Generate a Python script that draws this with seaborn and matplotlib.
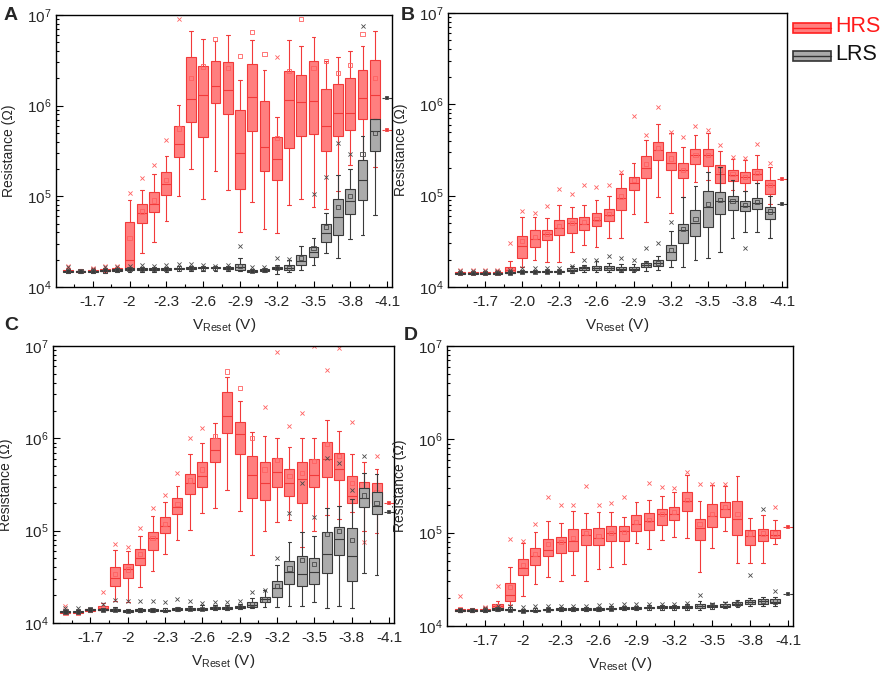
import numpy as np
import pandas as pd
import matplotlib
matplotlib.use("Agg")
import matplotlib.pyplot as plt
import seaborn as sns
from matplotlib.ticker import FixedLocator, LogLocator, NullFormatter
from matplotlib.patches import Rectangle
from matplotlib.lines import Line2D

nan = np.nan

# ---------------- data ----------------
V = [-1.5, -1.6, -1.7, -1.8, -1.9, -2.0, -2.1, -2.2, -2.3, -2.4, -2.5, -2.6, -2.7,
     -2.8, -2.9, -3.0, -3.1, -3.2, -3.3, -3.4, -3.5, -3.6, -3.7, -3.8, -3.9, -4.0]
V_END = -4.1

TICKS_A = ['-1.7', '-2', '-2.3', '-2.6', '-2.9', '-3.2', '-3.5', '-3.8', '-4.1']
TICKS_B = ['-1.7', '-2.0', '-2.3', '-2.6', '-2.9', '-3.2', '-3.5', '-3.8', '-4.1']

# Panel A
A_hrs_lo = [1.45e4, 1.45e4, 1.47e4, 1.48e4, 1.5e4, 1.55e4, 2.4e4, 3.1e4, 5.4e4, 1.02e5, 2.0e5, 9.4e4, 1.9e5,
            1.16e5, 4.0e4, 8.7e4, 4.4e4, 3.9e4, 8.1e4, 9.4e4, 7.6e4, 7.2e4, 1.14e5, 2.2e5, 2.3e5, 2.1e5]
A_hrs_q1 = [1.49e4, 1.48e4, 1.5e4, 1.52e4, 1.54e4, 1.62e4, 5.1e4, 6.7e4, 1.04e5, 2.7e5, 6.6e5, 4.5e5, 1.08e6,
            8.1e5, 1.2e5, 5.3e5, 1.9e5, 1.5e5, 3.4e5, 4.6e5, 4.9e5, 3.2e5, 4.6e5, 5.4e5, 7.1e5, 7.1e5]
A_hrs_med = [1.52e4, 1.5e4, 1.52e4, 1.54e4, 1.57e4, 2.0e4, 6.6e4, 8.2e4, 1.38e5, 3.8e5, 1.18e6, 1.3e6, 1.66e6,
             1.5e6, 3.0e5, 1.25e6, 3.5e5, 2.6e5, 1.16e6, 1.1e6, 1.12e6, 6.0e5, 8.4e5, 8.3e5, 1.22e6, 1.3e6]
A_hrs_q3 = [1.55e4, 1.52e4, 1.55e4, 1.57e4, 1.6e4, 5.2e4, 8.3e4, 1.12e5, 1.85e5, 5.9e5, 3.4e6, 2.76e6, 3.1e6,
            3.0e6, 9.0e5, 2.9e6, 1.13e6, 4.5e5, 2.4e6, 2.2e6, 3.1e6, 1.54e6, 1.74e6, 2.0e6, 2.45e6, 3.2e6]
A_hrs_hi = [1.6e4, 1.56e4, 1.6e4, 1.62e4, 1.65e4, 9.2e4, 1.18e5, 1.76e5, 2.8e5, 1.02e6, 6.6e6, 5.4e6, 5.2e6,
            6.0e6, 1.9e6, 5.3e6, 2.45e6, 7.5e5, 5.3e6, 4.5e6, 5.7e6, 3.1e6, 3.4e6, 4.0e6, 4.5e6, 6.6e6]
A_hrs_mean = [1.52e4, 1.5e4, 1.52e4, 1.55e4, 1.58e4, 3.5e4, 6.8e4, 9.0e4, 1.52e5, 5.6e5, 2.0e6, 2.7e6, 5.4e6,
              2.6e6, 3.5e6, 6.5e6, 3.7e6, 4.4e5, 2.4e6, 9.0e6, 2.6e6, 3.1e6, 2.3e6, 2.8e6, 6.2e6, 2.0e6]
A_hrs_out = [1.7e4, nan, 1.6e4, 1.7e4, 1.7e4, 1.1e5, 1.6e5, 2.2e5, 4.2e5, 9.0e6, nan, nan, nan,
             nan, nan, nan, nan, 3.4e6, nan, nan, nan, nan, nan, nan, nan, nan]

A_lrs_lo = [1.42e4, 1.42e4, 1.42e4, 1.43e4, 1.45e4, 1.48e4, 1.48e4, 1.48e4, 1.48e4, 1.5e4, 1.5e4, 1.52e4, 1.52e4,
            1.5e4, 1.5e4, 1.45e4, 1.48e4, 1.4e4, 1.48e4, 1.53e4, 1.73e4, 2.4e4, 2.1e4, 3.4e4, 3.7e4, 6.3e4]
A_lrs_q1 = [1.48e4, 1.48e4, 1.48e4, 1.5e4, 1.52e4, 1.54e4, 1.54e4, 1.54e4, 1.54e4, 1.57e4, 1.58e4, 1.6e4, 1.6e4,
            1.58e4, 1.55e4, 1.48e4, 1.52e4, 1.58e4, 1.53e4, 1.73e4, 2.14e4, 3.1e4, 3.75e4, 6.4e4, 9.2e4, 3.2e5]
A_lrs_med = [1.5e4, 1.5e4, 1.5e4, 1.52e4, 1.55e4, 1.57e4, 1.57e4, 1.57e4, 1.57e4, 1.6e4, 1.62e4, 1.63e4, 1.63e4,
             1.62e4, 1.67e4, 1.5e4, 1.55e4, 1.62e4, 1.62e4, 1.92e4, 2.45e4, 3.9e4, 5.9e4, 8.8e4, 1.52e5, 5.2e5]
A_lrs_q3 = [1.52e4, 1.52e4, 1.52e4, 1.55e4, 1.58e4, 1.6e4, 1.6e4, 1.6e4, 1.6e4, 1.63e4, 1.66e4, 1.67e4, 1.67e4,
            1.67e4, 1.8e4, 1.53e4, 1.58e4, 1.67e4, 1.76e4, 2.24e4, 2.76e4, 5.0e4, 9.3e4, 1.2e5, 2.5e5, 7.1e5]
A_lrs_hi = [1.55e4, 1.55e4, 1.55e4, 1.58e4, 1.62e4, 1.65e4, 1.65e4, 1.65e4, 1.65e4, 1.7e4, 1.72e4, 1.72e4, 1.72e4,
            1.72e4, 2.1e4, 1.58e4, 1.62e4, 1.75e4, 2.0e4, 2.85e4, 3.5e4, 6.5e4, 1.74e5, 2.0e5, 4.6e5, 7.1e5]
A_lrs_mean = [1.5e4, 1.5e4, 1.5e4, 1.52e4, 1.55e4, 1.57e4, 1.57e4, 1.57e4, 1.57e4, 1.6e4, 1.62e4, 1.63e4, 1.63e4,
              1.62e4, 1.7e4, 1.5e4, 1.55e4, 1.62e4, 1.63e4, 2.1e4, 2.7e4, 4.6e4, 7.7e4, 1.0e5, 2.9e5, 5.0e5]
A_lrs_out = [1.65e4, nan, 1.58e4, 1.68e4, 1.65e4, 1.72e4, 1.75e4, 1.7e4, 1.75e4, 1.78e4, 1.78e4, 1.75e4, 1.72e4,
             1.75e4, 2.8e4, 1.65e4, 1.68e4, 2.1e4, 2.05e4, nan, 1.07e5, 1.65e5, 3.9e5, 2.9e5, 7.5e6, nan]

# Panel B
B_hrs_lo = [1.38e4, 1.38e4, 1.38e4, 1.39e4, 1.42e4, 1.66e4, 1.96e4, 1.9e4, 1.9e4, 2.4e4, 2.9e4, 2.74e4, 3.4e4,
            3.4e4, 6.3e4, 5.1e4, 9.7e4, 6.5e4, 9.7e4, 1.4e5, 1.47e5, 1.1e5, 1.15e5, 1.13e5, 1.38e5, 8.2e4]
B_hrs_q1 = [1.41e4, 1.41e4, 1.41e4, 1.42e4, 1.45e4, 2.1e4, 2.74e4, 3.24e4, 3.74e4, 3.9e4, 4.2e4, 4.6e4, 5.3e4,
            6.9e4, 1.16e5, 1.57e5, 2.44e5, 1.89e5, 1.56e5, 2.24e5, 2.1e5, 1.39e5, 1.46e5, 1.38e5, 1.5e5, 1.05e5]
B_hrs_med = [1.43e4, 1.43e4, 1.43e4, 1.44e4, 1.55e4, 2.8e4, 3.35e4, 3.8e4, 4.4e4, 5.0e4, 4.9e4, 5.4e4, 6.1e4,
             9.4e4, 1.38e5, 2.03e5, 3.2e5, 2.3e5, 1.89e5, 2.76e5, 2.76e5, 1.71e5, 1.7e5, 1.6e5, 1.74e5, 1.3e5]
B_hrs_q3 = [1.45e4, 1.45e4, 1.45e4, 1.46e4, 1.65e4, 3.65e4, 4.2e4, 4.2e4, 5.45e4, 5.7e4, 5.8e4, 6.45e4, 7.1e4,
            1.2e5, 1.6e5, 2.74e5, 3.9e5, 3.0e5, 2.3e5, 3.24e5, 3.27e5, 2.15e5, 1.93e5, 1.82e5, 1.98e5, 1.47e5]
B_hrs_hi = [1.48e4, 1.48e4, 1.48e4, 1.5e4, 1.93e4, 5.9e4, 5.9e4, 5.7e4, 8.0e4, 7.6e4, 8.0e4, 9.0e4, 9.9e4,
            1.74e5, 2.27e5, 4.1e5, 6.1e5, 4.9e5, 3.4e5, 4.6e5, 4.85e5, 3.1e5, 2.5e5, 2.45e5, 2.8e5, 2.06e5]
B_hrs_mean = [1.43e4, 1.43e4, 1.43e4, 1.44e4, 1.55e4, 3.2e4, 3.5e4, 3.8e4, 4.7e4, 5.0e4, 5.1e4, 5.6e4, 6.3e4,
              9.8e4, 1.5e5, 2.2e5, 3.3e5, 2.55e5, 1.9e5, 2.8e5, 2.8e5, 1.9e5, 1.72e5, 1.6e5, 1.76e5, 1.3e5]
B_hrs_out = [1.52e4, 1.52e4, 1.52e4, 1.55e4, 3.0e4, 6.8e4, 6.5e4, 7.8e4, 1.17e5, 1.03e5, 1.3e5, 1.23e5, 1.32e5,
             1.8e5, 7.4e5, 4.6e5, 9.3e5, 5.0e5, 4.4e5, 5.8e5, 5.3e5, 3.6e5, 2.65e5, 2.6e5, 3.65e5, 2.3e5]

B_lrs_lo = [1.38e4, 1.38e4, 1.38e4, 1.38e4, 1.4e4, 1.42e4, 1.42e4, 1.42e4, 1.42e4, 1.43e4, 1.45e4, 1.45e4, 1.45e4,
            1.45e4, 1.45e4, 1.5e4, 1.55e4, 1.66e4, 1.66e4, 1.96e4, 2.1e4, 2.4e4, 3.46e4, 4.0e4, 4.0e4, 3.4e4]
B_lrs_q1 = [1.4e4, 1.4e4, 1.4e4, 1.4e4, 1.42e4, 1.45e4, 1.45e4, 1.45e4, 1.45e4, 1.5e4, 1.55e4, 1.55e4, 1.55e4,
            1.53e4, 1.52e4, 1.66e4, 1.7e4, 2.0e4, 3.05e4, 3.6e4, 4.5e4, 6.3e4, 6.9e4, 6.8e4, 7.1e4, 5.6e4]
B_lrs_med = [1.42e4, 1.42e4, 1.42e4, 1.42e4, 1.44e4, 1.47e4, 1.47e4, 1.48e4, 1.48e4, 1.55e4, 1.6e4, 1.63e4, 1.62e4,
             1.57e4, 1.57e4, 1.76e4, 1.85e4, 2.4e4, 4.2e4, 5.0e4, 7.5e4, 8.7e4, 8.7e4, 7.8e4, 8.4e4, 6.6e4]
B_lrs_q3 = [1.44e4, 1.44e4, 1.44e4, 1.44e4, 1.46e4, 1.5e4, 1.5e4, 1.5e4, 1.5e4, 1.6e4, 1.65e4, 1.7e4, 1.7e4,
            1.65e4, 1.64e4, 1.83e4, 1.98e4, 2.9e4, 4.9e4, 7.0e4, 1.12e5, 1.1e5, 1.0e5, 8.8e4, 9.5e4, 7.5e4]
B_lrs_hi = [1.46e4, 1.46e4, 1.46e4, 1.46e4, 1.5e4, 1.55e4, 1.55e4, 1.55e4, 1.55e4, 1.68e4, 1.75e4, 1.93e4, 1.85e4,
            1.8e4, 1.78e4, 1.95e4, 2.2e4, 4.1e4, 9.7e4, 1.26e5, 1.8e5, 2.05e5, 1.47e5, 1.12e5, 1.36e5, 1.0e5]
B_lrs_mean = [1.42e4, 1.42e4, 1.42e4, 1.42e4, 1.44e4, 1.47e4, 1.47e4, 1.48e4, 1.48e4, 1.55e4, 1.6e4, 1.63e4, 1.62e4,
              1.57e4, 1.57e4, 1.76e4, 1.85e4, 2.55e4, 4.3e4, 5.5e4, 8.1e4, 8.9e4, 8.8e4, 7.9e4, 8.5e4, 6.7e4]
B_lrs_out = [1.5e4, 1.5e4, 1.5e4, 1.5e4, 1.55e4, 1.6e4, 1.6e4, 1.62e4, 1.62e4, 1.7e4, 2.0e4, 1.96e4, 2.17e4,
             2.07e4, 1.96e4, 2.7e4, 3.0e4, 5.1e4, nan, nan, nan, nan, nan, 2.67e4, nan, nan]

# Panel C
C_hrs_lo = [1.25e4, 1.25e4, 1.33e4, 1.38e4, 1.75e4, 1.7e4, 2.43e4, 3.7e4, 5.6e4, 7.9e4, 1.02e5, 1.55e5, 1.75e5,
            2.76e5, 1.65e5, 5.4e4, 1.0e5, 1.23e5, 1.3e5, 6.6e4, 1.0e5, 1.48e5, 1.34e5, 1.6e5, 1.0e5, 9.5e4]
C_hrs_q1 = [1.28e4, 1.28e4, 1.36e4, 1.4e4, 2.5e4, 3.1e4, 4.2e4, 6.2e4, 9.4e4, 1.5e5, 2.47e5, 3.0e5, 5.6e5,
            1.14e6, 6.7e5, 2.27e5, 2.17e5, 3.0e5, 2.36e5, 1.98e5, 2.95e5, 3.8e5, 3.5e5, 2.0e5, 2.0e5, 2.0e5]
C_hrs_med = [1.3e4, 1.3e4, 1.39e4, 1.45e4, 3.1e4, 3.8e4, 5.1e4, 8.4e4, 1.11e5, 1.79e5, 3.3e5, 3.9e5, 7.5e5,
             1.73e6, 1.11e6, 4.0e5, 3.3e5, 4.35e5, 3.3e5, 3.6e5, 4.0e5, 5.9e5, 4.7e5, 2.4e5, 2.6e5, 2.5e5]
C_hrs_q3 = [1.32e4, 1.32e4, 1.42e4, 1.54e4, 4.0e4, 4.4e4, 6.4e4, 9.6e4, 1.39e5, 2.24e5, 4.1e5, 5.6e5, 1.0e6,
            3.2e6, 1.49e6, 6.4e5, 5.6e5, 6.1e5, 4.7e5, 5.5e5, 6.0e5, 9.2e5, 6.9e5, 3.95e5, 3.4e5, 3.26e5]
C_hrs_hi = [1.35e4, 1.35e4, 1.45e4, 1.65e4, 6.2e4, 6.0e4, 8.8e4, 1.45e5, 2.03e5, 3.07e5, 6.7e5, 8.9e5, 1.47e6,
            4.6e6, 2.56e6, 1.18e6, 1.05e6, 1.0e6, 8.1e5, 1.0e6, 1.02e6, 1.58e6, 1.19e6, 6.7e5, 5.5e5, 4.6e5]
C_hrs_mean = [1.3e4, 1.3e4, 1.39e4, 1.46e4, 3.4e4, 3.8e4, 5.6e4, 8.4e4, 1.18e5, 1.95e5, 3.5e5, 4.6e5, 1.07e6,
              5.3e6, 3.5e6, 1.0e6, 4.6e5, 5.85e5, 3.9e5, 4.2e5, 5.7e5, 8.7e5, 6.5e5, 3.3e5, 2.7e5, 2.6e5]
C_hrs_out = [1.54e4, nan, nan, 2.15e4, 7.2e4, 6.6e4, 1.07e5, 1.75e5, 2.46e5, 4.2e5, 1.02e6, 1.28e6, nan,
             nan, nan, nan, 2.17e6, 8.7e6, 1.37e6, 1.88e6, 9.9e6, 5.5e6, 9.6e6, 1.49e6, 7.6e4, 6.5e5]

C_lrs_lo = [1.28e4, 1.28e4, 1.35e4, 1.35e4, 1.35e4, 1.3e4, 1.33e4, 1.33e4, 1.33e4, 1.36e4, 1.37e4, 1.37e4, 1.4e4,
            1.4e4, 1.42e4, 1.45e4, 1.5e4, 1.48e4, 1.54e4, 1.54e4, 1.67e4, 1.44e4, 1.54e4, 1.44e4, 3.5e4, 3.3e4]
C_lrs_q1 = [1.31e4, 1.31e4, 1.38e4, 1.37e4, 1.36e4, 1.33e4, 1.36e4, 1.36e4, 1.35e4, 1.38e4, 1.4e4, 1.4e4, 1.42e4,
            1.42e4, 1.45e4, 1.5e4, 1.68e4, 1.9e4, 2.64e4, 2.5e4, 2.62e4, 3.5e4, 5.5e4, 2.85e4, 1.82e5, 1.52e5]
C_lrs_med = [1.33e4, 1.33e4, 1.4e4, 1.39e4, 1.39e4, 1.35e4, 1.38e4, 1.38e4, 1.37e4, 1.41e4, 1.42e4, 1.43e4, 1.45e4,
             1.45e4, 1.48e4, 1.58e4, 1.8e4, 2.4e4, 3.57e4, 3.37e4, 3.6e4, 5.6e4, 8.1e4, 5.3e4, 2.26e5, 1.87e5]
C_lrs_q3 = [1.35e4, 1.35e4, 1.42e4, 1.42e4, 1.42e4, 1.38e4, 1.41e4, 1.41e4, 1.4e4, 1.45e4, 1.46e4, 1.47e4, 1.48e4,
            1.49e4, 1.53e4, 1.67e4, 1.9e4, 2.83e4, 4.7e4, 5.37e4, 5.1e4, 9.6e4, 1.09e5, 1.07e5, 2.87e5, 2.6e5]
C_lrs_hi = [1.38e4, 1.38e4, 1.45e4, 1.45e4, 1.48e4, 1.42e4, 1.45e4, 1.45e4, 1.44e4, 1.5e4, 1.52e4, 1.55e4, 1.55e4,
            1.57e4, 1.6e4, 1.85e4, 2.3e4, 4.2e4, 7.5e4, 9.6e4, 8.8e4, 1.75e5, 1.87e5, 2.2e5, 4.2e5, 4.1e5]
C_lrs_mean = [1.33e4, 1.33e4, 1.4e4, 1.39e4, 1.39e4, 1.35e4, 1.38e4, 1.38e4, 1.37e4, 1.41e4, 1.42e4, 1.43e4, 1.45e4,
              1.45e4, 1.48e4, 1.6e4, 1.8e4, 2.5e4, 3.9e4, 4.85e4, 4.4e4, 9.2e4, 1.0e5, 8.0e4, 2.4e5, 2.0e5]
C_lrs_out = [1.45e4, 1.45e4, nan, 1.6e4, 1.77e4, 1.75e4, 1.75e4, 1.72e4, 1.7e4, 1.8e4, 1.75e4, 1.65e4, 1.7e4,
             1.68e4, 1.75e4, 2.18e4, 2.3e4, 5.0e4, 1.55e5, 3.3e5, 1.42e5, 6.1e5, 5.4e5, 2.76e5, 6.5e5, nan]

# Panel D
D_hrs_lo = [1.42e4, 1.42e4, 1.45e4, 1.5e4, 1.66e4, 2.1e4, 2.8e4, 3.35e4, 3.0e4, 3.55e4, 3.0e4, 4.1e4, 4.25e4,
            4.6e4, 7.8e4, 6.7e4, 8.3e4, 9.0e4, 8.8e4, 3.8e4, 6.85e4, 1.04e5, 4.7e4, 4.75e4, 4.75e4, 7.6e4]
D_hrs_q1 = [1.46e4, 1.45e4, 1.48e4, 1.57e4, 1.84e4, 3.55e4, 4.47e4, 5.6e4, 6.05e4, 6.3e4, 7.3e4, 7.3e4, 8.1e4,
            8.1e4, 1.03e5, 1.07e5, 1.22e5, 1.36e5, 1.7e5, 8.4e4, 1.15e5, 1.47e5, 9.5e4, 7.3e4, 8.1e4, 8.8e4]
D_hrs_med = [1.5e4, 1.48e4, 1.5e4, 1.62e4, 2.17e4, 4.2e4, 5.6e4, 6.6e4, 7.9e4, 8.1e4, 9.5e4, 8.8e4, 9.8e4,
             1.04e5, 1.25e5, 1.32e5, 1.57e5, 1.57e5, 2.2e5, 1.13e5, 1.5e5, 1.78e5, 1.41e5, 9.3e4, 9.5e4, 9.5e4]
D_hrs_q3 = [1.53e4, 1.51e4, 1.53e4, 1.7e4, 2.9e4, 5.2e4, 6.85e4, 8.6e4, 9.0e4, 1.09e5, 1.09e5, 1.12e5, 1.17e5,
            1.17e5, 1.53e5, 1.62e5, 1.81e5, 1.9e5, 2.73e5, 1.4e5, 2.03e5, 2.14e5, 2.17e5, 1.06e5, 1.1e5, 1.06e5]
D_hrs_hi = [1.57e4, 1.55e4, 1.58e4, 1.85e4, 4.25e4, 7.8e4, 1.02e5, 1.32e5, 1.28e5, 1.7e5, 1.64e5, 1.66e5, 1.66e5,
            1.47e5, 2.14e5, 2.25e5, 2.47e5, 2.7e5, 4.1e5, 2.2e5, 3.27e5, 3.2e5, 4.0e5, 1.44e5, 1.53e5, 1.36e5]
D_hrs_mean = [1.5e4, 1.48e4, 1.5e4, 1.63e4, 2.6e4, 4.47e4, 5.9e4, 7.5e4, 7.9e4, 8.8e4, 1.0e5, 9.2e4, 1.0e5,
              1.02e5, 1.3e5, 1.36e5, 1.57e5, 1.66e5, 2.25e5, 1.25e5, 1.6e5, 1.9e5, 1.6e5, 9.8e4, 9.8e4, 9.8e4]
D_hrs_out = [2.1e4, nan, 1.6e4, 2.7e4, 8.5e4, 8.1e4, 1.25e5, 2.4e5, 1.99e5, 2.0e5, 3.2e5, 2.0e5, 2.1e5,
             2.4e5, nan, 3.4e5, 3.1e5, 3.0e5, 4.5e5, 3.3e5, 3.35e5, 3.35e5, nan, nan, nan, 1.88e5]

D_lrs_lo = [1.42e4, 1.42e4, 1.43e4, 1.45e4, 1.44e4, 1.41e4, 1.43e4, 1.44e4, 1.46e4, 1.46e4, 1.46e4, 1.46e4, 1.47e4,
            1.48e4, 1.48e4, 1.5e4, 1.5e4, 1.5e4, 1.5e4, 1.5e4, 1.53e4, 1.55e4, 1.58e4, 1.65e4, 1.65e4, 1.65e4]
D_lrs_q1 = [1.45e4, 1.45e4, 1.46e4, 1.49e4, 1.47e4, 1.44e4, 1.46e4, 1.48e4, 1.5e4, 1.5e4, 1.5e4, 1.5e4, 1.51e4,
            1.52e4, 1.52e4, 1.54e4, 1.55e4, 1.55e4, 1.55e4, 1.56e4, 1.58e4, 1.6e4, 1.67e4, 1.74e4, 1.72e4, 1.75e4]
D_lrs_med = [1.47e4, 1.47e4, 1.48e4, 1.52e4, 1.5e4, 1.46e4, 1.48e4, 1.5e4, 1.52e4, 1.52e4, 1.52e4, 1.52e4, 1.53e4,
             1.55e4, 1.55e4, 1.57e4, 1.58e4, 1.58e4, 1.58e4, 1.65e4, 1.62e4, 1.65e4, 1.72e4, 1.8e4, 1.85e4, 1.83e4]
D_lrs_q3 = [1.49e4, 1.49e4, 1.5e4, 1.56e4, 1.53e4, 1.48e4, 1.5e4, 1.52e4, 1.55e4, 1.55e4, 1.55e4, 1.55e4, 1.56e4,
            1.58e4, 1.58e4, 1.6e4, 1.62e4, 1.62e4, 1.62e4, 1.73e4, 1.67e4, 1.7e4, 1.8e4, 1.88e4, 1.93e4, 1.93e4]
D_lrs_hi = [1.52e4, 1.52e4, 1.53e4, 1.6e4, 1.58e4, 1.52e4, 1.54e4, 1.56e4, 1.6e4, 1.6e4, 1.6e4, 1.6e4, 1.62e4,
            1.65e4, 1.65e4, 1.67e4, 1.68e4, 1.68e4, 1.7e4, 1.85e4, 1.75e4, 1.8e4, 1.9e4, 1.98e4, 2.05e4, 2.05e4]
D_lrs_mean = [1.47e4, 1.47e4, 1.48e4, 1.52e4, 1.5e4, 1.46e4, 1.48e4, 1.5e4, 1.52e4, 1.52e4, 1.52e4, 1.52e4, 1.53e4,
              1.55e4, 1.55e4, 1.57e4, 1.58e4, 1.58e4, 1.58e4, 1.65e4, 1.62e4, 1.65e4, 1.72e4, 1.8e4, 1.85e4, 1.83e4]
D_lrs_out = [nan, nan, 1.55e4, 1.62e4, 1.62e4, 1.58e4, 1.62e4, 1.65e4, 1.65e4, 1.65e4, 1.65e4, 1.68e4, 1.68e4,
             1.7e4, 1.72e4, 1.72e4, 1.72e4, 1.72e4, 1.75e4, 2.17e4, 1.72e4, 1.75e4, 1.8e4, 3.5e4, 1.8e5, 2.4e4]

# stray markers drawn at -4.1 in each panel (HRS, LRS)
A_end = [5.4e5, 1.22e6]
B_end = [1.53e5, 8.1e4]
C_end = [2.0e5, 1.6e5]
D_end = [1.14e5, 2.2e4]

# ---------------- style ----------------
sns.set_style("ticks")
plt.rcParams["font.family"] = ["Liberation Sans", "DejaVu Sans"]
plt.rcParams["mathtext.fontset"] = "custom"
plt.rcParams["mathtext.rm"] = "Liberation Sans"
plt.rcParams["mathtext.it"] = "Liberation Sans:italic"
plt.rcParams["mathtext.bf"] = "Liberation Sans:bold"

HRS_FACE, HRS_EDGE, HRS_MARK = "#FF7F7F", "#F23A3A", "#FF6060"
LRS_FACE, LRS_EDGE, LRS_MARK = "#ABABAB", "#3A3A3A", "#4A4A4A"

W, H = 886, 678
fig = plt.figure(figsize=(W / 100, H / 100), dpi=100)


def px_rect(l, t, r, b):
    return [l / W, 1 - b / H, (r - l) / W, (b - t) / H]


def long_frame(lo, q1, med, q3, hi):
    rows = []
    for v, a, b, c, d, e in zip(V, lo, q1, med, q3, hi):
        for val in (a, b, c, d, e):
            rows.append((v, val))
    return pd.DataFrame(rows, columns=["V", "R"])


def draw_state(ax, lo, q1, med, q3, hi, mean, out, face, edge, mark, z):
    df = long_frame(lo, q1, med, q3, hi)
    sns.boxplot(data=df, x="V", y="R", native_scale=True, log_scale=(False, True),
                whis=(0, 100), showfliers=False, color=face, linecolor=edge,
                saturation=1, linewidth=0.8, width=0.8, capwidths=0.03, ax=ax,
                zorder=z)
    sns.scatterplot(x=V, y=mean, marker="s", s=9, facecolor="none", edgecolor=mark,
                    linewidth=0.6, ax=ax, zorder=z + 0.5)
    sns.scatterplot(x=V, y=out, marker="x", s=9, color=mark, linewidth=0.6, ax=ax,
                    zorder=z + 0.5)


def draw_panel(rect, letter, letter_xy, ticklabels, hrs, lrs, end):
    ax = fig.add_axes(px_rect(*rect))
    draw_state(ax, *hrs, HRS_FACE, HRS_EDGE, HRS_MARK, 2)
    draw_state(ax, *lrs, LRS_FACE, LRS_EDGE, LRS_MARK, 3)
    # stray end markers
    sns.scatterplot(x=[V_END], y=[end[0]], marker="_", s=60, color=HRS_EDGE, linewidth=0.8, ax=ax)
    sns.scatterplot(x=[V_END], y=[end[0]], marker="s", s=5, color=HRS_EDGE, ax=ax)
    sns.scatterplot(x=[V_END], y=[end[1]], marker="_", s=60, color=LRS_EDGE, linewidth=0.8, ax=ax)
    sns.scatterplot(x=[V_END], y=[end[1]], marker="s", s=5, color=LRS_EDGE, ax=ax)

    ax.set_xlim(-1.4, -4.14)
    ax.set_ylim(1e4, 1e7)
    major = np.round(np.arange(-1.7, -4.15, -0.3), 2)
    ax.xaxis.set_major_locator(FixedLocator(major))
    ax.xaxis.set_minor_locator(FixedLocator(np.round(major[:-1] - 0.15, 2).tolist() + [-1.55]))
    ax.set_xticklabels(ticklabels)
    ax.yaxis.set_major_locator(LogLocator(base=10, numticks=10))
    ax.yaxis.set_minor_locator(LogLocator(base=10, subs=np.arange(2, 10), numticks=20))
    ax.yaxis.set_minor_formatter(NullFormatter())
    ax.tick_params(which="both", direction="in", top=False, right=False, labelsize=11,
                   width=0.8, color="black")
    ax.tick_params(axis="x", which="major", length=4, pad=6)
    ax.tick_params(axis="x", which="minor", length=2.5)
    ax.tick_params(axis="y", which="major", length=5, pad=3)
    ax.tick_params(axis="y", which="minor", length=2.5)
    for s in ax.spines.values():
        s.set_linewidth(1.0)
        s.set_color("black")
    ax.set_ylabel("Resistance (\u03a9)", fontsize=10)
    ax.set_xlabel(r"V$_{\mathrm{Reset}}$ (V)", fontsize=11)
    wpx = rect[2] - rect[0]
    hpx = rect[3] - rect[1]
    ax.yaxis.set_label_coords(-40 / wpx, 0.5)
    ax.xaxis.set_label_coords(0.5, -29 / hpx)
    ax.xaxis.label.set_va("top")
    ax.grid(False)
    fig.text(letter_xy[0] / W, 1 - letter_xy[1] / H, letter, fontsize=14,
             fontweight="bold", ha="left", va="center")
    return ax


draw_panel((56, 15, 392, 287), "A", (4, 15), TICKS_A,
           (A_hrs_lo, A_hrs_q1, A_hrs_med, A_hrs_q3, A_hrs_hi, A_hrs_mean, A_hrs_out),
           (A_lrs_lo, A_lrs_q1, A_lrs_med, A_lrs_q3, A_lrs_hi, A_lrs_mean, A_lrs_out), A_end)
draw_panel((448, 13, 787, 287), "B", (401, 15), TICKS_B,
           (B_hrs_lo, B_hrs_q1, B_hrs_med, B_hrs_q3, B_hrs_hi, B_hrs_mean, B_hrs_out),
           (B_lrs_lo, B_lrs_q1, B_lrs_med, B_lrs_q3, B_lrs_hi, B_lrs_mean, B_lrs_out), B_end)
draw_panel((53, 346, 394, 623), "C", (4, 326), TICKS_A,
           (C_hrs_lo, C_hrs_q1, C_hrs_med, C_hrs_q3, C_hrs_hi, C_hrs_mean, C_hrs_out),
           (C_lrs_lo, C_lrs_q1, C_lrs_med, C_lrs_q3, C_lrs_hi, C_lrs_mean, C_lrs_out), C_end)
draw_panel((447, 346, 793, 626), "D", (404, 336), TICKS_A,
           (D_hrs_lo, D_hrs_q1, D_hrs_med, D_hrs_q3, D_hrs_hi, D_hrs_mean, D_hrs_out),
           (D_lrs_lo, D_lrs_q1, D_lrs_med, D_lrs_q3, D_lrs_hi, D_lrs_mean, D_lrs_out), D_end)

# legend (figure level)
for (top, face, edge, label, tcol) in [(23, HRS_FACE, "#FF2020", "HRS", "#FF1A1A"),
                                       (51, LRS_FACE, "#333333", "LRS", "#111111")]:
    fig.add_artist(Rectangle((793 / W, 1 - (top + 10) / H), 38 / W, 10 / H,
                             transform=fig.transFigure, facecolor=face, edgecolor=edge,
                             linewidth=1.2))
    fig.add_artist(Line2D([793 / W, 831 / W], [1 - (top + 5) / H] * 2,
                          transform=fig.transFigure, color=edge, linewidth=1.0))
    fig.text(835 / W, 1 - (top + 3) / H, label, fontsize=15.5, color=tcol,
             ha="left", va="center")

fig.savefig("out.png", dpi=100)
